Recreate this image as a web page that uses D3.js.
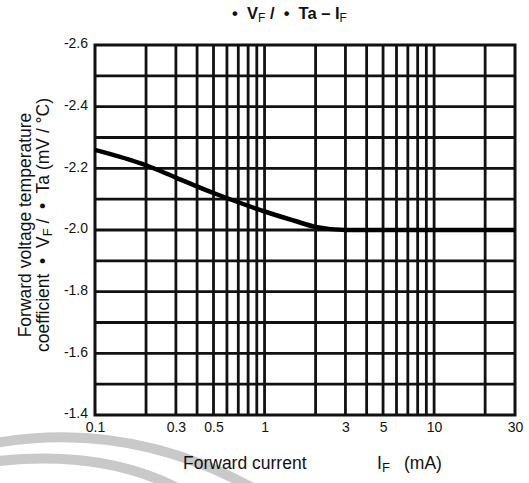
<!DOCTYPE html>
<html>
<head>
<meta charset="utf-8">
<script src="https://cdn.jsdelivr.net/npm/d3@7"></script>
<style>
  body { margin: 0; background: #fff; }
  text { font-family: "Liberation Sans", Arial, sans-serif; fill: #111; }
</style>
</head>
<body>
<div id="chart"></div>
<script>
// forward current (mA) and temperature coefficient (mV/°C)
var currents = [0.1, 0.2, 0.3, 0.5, 0.7, 1, 1.5, 2, 3, 5, 10, 30];
var coeffs = [-2.26, -2.21, -2.17, -2.12, -2.09, -2.06, -2.03, -2.01, -2.0, -2.0, -2.0, -2.0];

var xTickValues = [0.1, 0.3, 0.5, 1, 3, 5, 10, 30];
var yTickValues = [-2.6, -2.4, -2.2, -2.0, -1.8, -1.6, -1.4];

var width = 529,
    height = 483;

var margin = {top: 45, right: 14, bottom: 68, left: 95};

var svg = d3.select("#chart")
  .append("svg")
    .attr("width", width)
    .attr("height", height);

// faint watermark arcs at the bottom left
svg.append("path")
    .attr("d", "M-10,444 Q130,418 260,492")
    .attr("fill", "none")
    .attr("stroke", "#c9c9c9")
    .attr("stroke-width", 10);
svg.append("path")
    .attr("d", "M-10,462 Q105,448 185,492")
    .attr("fill", "none")
    .attr("stroke", "#c9c9c9")
    .attr("stroke-width", 10);

var x = d3.scaleLog()
    .domain([0.1, 30])
    .range([margin.left, width - margin.right]);

var y = d3.scaleLinear()
    .domain([-2.6, -1.4])
    .range([margin.top, height - margin.bottom]);

// log grid: every 1..9 step of each decade
var xGrid = [];
[0.1, 1, 10].forEach(function(dec) {
    for (var k = 1; k < 10; k++) {
        var v = +(dec * k).toPrecision(3);
        if (v > 0.1 && v < 30) xGrid.push(v);
    }
});
var yGrid = d3.range(-2.5, -1.45, 0.1);

var grid = svg.append("g");

grid.selectAll(".vline")
  .data(xGrid)
  .enter()
  .append("line")
    .attr("x1", function(d) { return x(d); })
    .attr("x2", function(d) { return x(d); })
    .attr("y1", y(-2.6))
    .attr("y2", y(-1.4))
    .attr("stroke", "#111")
    .attr("stroke-width", 2.8);

grid.selectAll(".hline")
  .data(yGrid)
  .enter()
  .append("line")
    .attr("x1", x(0.1))
    .attr("x2", x(30))
    .attr("y1", function(d) { return y(d); })
    .attr("y2", function(d) { return y(d); })
    .attr("stroke", "#111")
    .attr("stroke-width", 2.8);

// frame
svg.append("rect")
    .attr("x", x(0.1))
    .attr("y", y(-2.6))
    .attr("width", x(30) - x(0.1))
    .attr("height", y(-1.4) - y(-2.6))
    .attr("fill", "none")
    .attr("stroke", "#111")
    .attr("stroke-width", 3);

// curve
var line = d3.line()
    .x(function(d, i) { return x(currents[i]); })
    .y(function(d) { return y(d); })
    .curve(d3.curveMonotoneX);

svg.append("path")
    .datum(coeffs)
    .attr("d", line)
    .attr("fill", "none")
    .attr("stroke", "#000")
    .attr("stroke-width", 4.5);

// axes (labels only)
var xAxis = d3.axisBottom(x)
    .tickValues(xTickValues)
    .tickFormat(function(d) { return d; })
    .tickSize(0)
    .tickPadding(7);

var gx = svg.append("g")
    .attr("transform", "translate(0," + y(-1.4) + ")")
    .call(xAxis);
gx.select(".domain").remove();
gx.selectAll("text").style("font-size", "14px").attr("fill", "#111");

var yAxis = d3.axisLeft(y)
    .tickValues(yTickValues)
    .tickFormat(function(d) { return d.toFixed(1); })
    .tickSize(0)
    .tickPadding(7);

var gy = svg.append("g")
    .attr("transform", "translate(" + x(0.1) + ",0)")
    .call(yAxis);
gy.select(".domain").remove();
gy.selectAll("text").style("font-size", "14px").attr("fill", "#111").attr("dy", "0.2em");

// title
var title = svg.append("text")
    .attr("x", 232)
    .attr("y", 19)
    .style("font-size", "16.5px")
    .style("font-weight", "bold")
    .attr("xml:space", "preserve");
title.append("tspan").text("\u2022  V");
title.append("tspan").text("F").attr("dy", 3).style("font-size", "12px").style("font-weight", "normal");
title.append("tspan").text(" /  \u2022  Ta \u2013 I").attr("dy", -3);
title.append("tspan").text("F").attr("dy", 3).style("font-size", "12px").style("font-weight", "normal");

// x axis title
var xt = svg.append("text")
    .attr("x", 183)
    .attr("y", 469)
    .style("font-size", "17.5px");
xt.append("tspan").text("Forward current");
xt.append("tspan").text("I").attr("x", 377);
xt.append("tspan").text("F").attr("dy", 3).style("font-size", "13px");
xt.append("tspan").text("(mA)").attr("x", 404).attr("dy", -3);

// y axis title, two lines
var yt = svg.append("g")
    .attr("transform", "translate(0,225) rotate(-90)");
yt.append("text")
    .attr("x", 0)
    .attr("y", 31)
    .attr("text-anchor", "middle")
    .style("font-size", "17.5px")
    .text("Forward voltage temperature");
var yt2 = yt.append("text")
    .attr("x", 0)
    .attr("y", 49)
    .attr("text-anchor", "middle")
    .style("font-size", "17.5px")
    .attr("xml:space", "preserve");
yt2.append("tspan").text("coefficient  \u2022  V");
yt2.append("tspan").text("F").attr("dy", 3).style("font-size", "13px");
yt2.append("tspan").text(" /  \u2022  Ta (mV / \u00b0C)").attr("dy", -3);
</script>
</body>
</html>
